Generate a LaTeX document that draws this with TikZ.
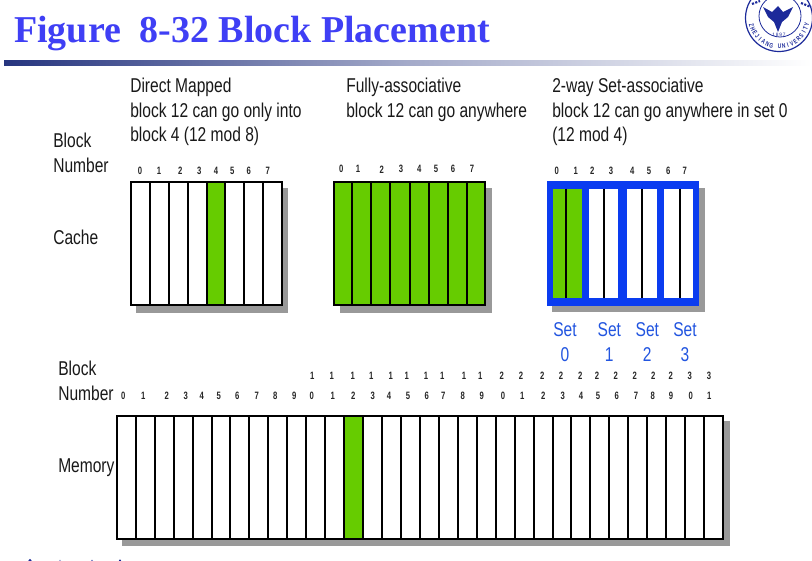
\documentclass[tikz,border=0pt]{standalone}
\usepackage{fontspec}
\setmainfont{Liberation Sans}
\newfontfamily\narr[FakeStretch=0.778]{Liberation Sans}
\newfontfamily\narrb[FakeStretch=0.72]{Liberation Sans Bold}
\newfontfamily\titlef{Liberation Serif Bold}
\definecolor{ttl}{HTML}{3F3FF5}
\definecolor{grn}{HTML}{66CC00}
\definecolor{shd}{HTML}{999999}
\definecolor{blu}{HTML}{0A3CF0}
\definecolor{setc}{HTML}{2255E0}
\definecolor{seal}{HTML}{1C2A9A}
\definecolor{rul}{HTML}{26357F}
\tikzset{
 lbl/.style={anchor=base west,inner sep=0pt,font=\narr\fontsize{15}{18}\selectfont,text=black!90},
 setl/.style={anchor=base,inner sep=0pt,font=\narr\fontsize{15}{18}\selectfont,text=setc},
 num/.style={anchor=center,inner sep=0pt,font=\narrb\fontsize{8}{9}\selectfont,text=black!85},
 cell/.style={draw=black,line width=1.5pt,fill=white},
 gcell/.style={draw=black,line width=1.5pt,fill=grn},
 div/.style={draw=black,line width=1.5pt},
}
\begin{document}
\begin{tikzpicture}[x=0.75pt,y=-0.75pt]
\useasboundingbox (0,0) rectangle (812,560);
\fill[white] (0,0) rectangle (812,560);
% title
\node[anchor=base west,inner sep=0pt,font=\titlef\fontsize{28.45}{30}\selectfont,text=ttl] (title) at (14,43) {Figure\ \ 8-32 Block Placement};
% rule
\shade[left color=rul,right color=white,middle color=rul!42] (4,61) rectangle (812,65.5);
% seal
\begin{scope}
\clip (732,0) rectangle (812,60);
\draw[seal,line width=0.9pt] (779,18) circle[radius=33.5];
\draw[seal,line width=0.6pt] (780,16) circle[radius=21];
\fill[seal] (763,7) -- (772,12) -- (778,6) -- (783,12) -- (793,7) -- (788,17) -- (782,22) -- (778,32) -- (774,22) -- (768,17) -- cycle;
\draw[seal,line width=1.6pt,dash pattern=on 1.6pt off 1pt] (752,4) -- (760,1);
\draw[seal,line width=1.6pt,dash pattern=on 1.6pt off 1pt] (801,3) -- (811,7);
\foreach \c [count=\i from 0] in {Z,H,E,J,I,A,N,G,{},U,N,I,V,E,R,S,I,T,Y}{
  \pgfmathsetmacro{\ang}{165-\i*8.45}
  \node[inner sep=0pt,font=\narrb\fontsize{5}{6}\selectfont,text=seal,rotate={90-\ang}] (sl\i) at ({779+28.5*cos(\ang)},{18+28.5*sin(\ang)}) {\c};
}
\node[inner sep=0pt,font=\fontsize{3.6}{4}\selectfont,text=seal] (year) at (779,34.5) {1\,8\,9\,7};
\end{scope}
% headings
\node[lbl] (h1a) at (130,92) {Direct Mapped};
\node[lbl] (h1b) at (130,117) {block 12 can go only into};
\node[lbl] (h1c) at (130,141.5) {block 4 (12 mod 8)};
\node[lbl] (h2a) at (346,92) {Fully-associative};
\node[lbl] (h2b) at (346,117) {block 12 can go anywhere};
\node[lbl] (h3a) at (552,92) {2-way Set-associative};
\node[lbl] (h3b) at (552,117) {block 12 can go anywhere in set 0};
\node[lbl] (h3c) at (552,141.5) {(12 mod 4)};
\node[lbl] (bn1) at (53,147) {Block};
\node[lbl] (bn2) at (53,172) {Number};
\node[lbl] (cachel) at (53,244) {Cache};
\node[lbl] (bn3) at (58,375) {Block};
\node[lbl] (bn4) at (58,400) {Number};
\node[lbl] (meml) at (58,472) {Memory};
% cache numbers
\foreach \x [count=\i from 0] in {140,159,180.3,199.3,216,232.3,248.7,267.7}
  \node[num] (na\i) at (\x,171) {\i};
\foreach \x [count=\i from 0] in {341.3,358,381.7,401,419.3,436,453,472}
  \node[num] (nb\i) at (\x,169.3) {\i};
\foreach \x [count=\i from 0] in {556.7,575.7,592.3,611,632.3,649,668.3,684.7}
  \node[num] (nc\i) at (\x,171) {\i};
% direct mapped
\fill[shd] (136,188) rectangle (288,312.7);
\draw[cell] (130.7,182.2) rectangle (281.7,304.7);
\fill[grn] (206.7,182.2) rectangle (225.3,304.7);
\foreach \x in {149.7,168.7,187.7,206.7,225.3,244.3,263.3}
  \draw[div] (\x,182.2) -- (\x,304.7);
\draw[div] (130.7,182.2) rectangle (281.7,304.7);
% fully assoc
\fill[shd] (339.5,188) rectangle (491.5,312.7);
\draw[gcell] (334.2,182.2) rectangle (485,304.7);
\foreach \x in {352.3,371.3,390.3,409.7,428.7,447.7,466.7}
  \draw[div] (\x,182.2) -- (\x,304.7);
% set assoc
\fill[shd] (552.3,187.7) rectangle (705,312.3);
\fill[blu] (546.7,180.7) rectangle (699,305.7);
\fill[grn] (553.3,188.7) rectangle (582,298.3);
\fill[white] (589.3,188.7) rectangle (618.3,298.3);
\fill[white] (626.7,188.7) rectangle (657,298.3);
\fill[white] (663.7,188.7) rectangle (692.7,298.3);
\foreach \x in {565.7,604,641.7,679.7}
  \draw[div] (\x,188.7) -- (\x,298.3);
% set labels
\foreach \x/\n [count=\i from 0] in {565/0,609.3/1,647.3/2,685/3}{
  \node[setl] (set\i) at (\x,336) {Set};
  \node[setl] (setn\i) at (\x,361.7) {\n};
}
% memory numbers
\foreach \x [count=\i from 0] in {123.3,143.3,166.7,185.7,201.7,218.7,237.3,256.7,275.3,294.3,311.7,332.7,353.3,372.7,389,408,426.7,443.3,462.7,481.7,503,522.3,543.3,562.7,581,598,616.7,636,652.7,671,690.7,709.3}{
  \pgfmathtruncatemacro{\u}{mod(\i,10)}
  \node[num] (mu\i) at (\x,396) {\u};
}
\foreach \x/\t [count=\i from 10] in {312.3/1,331.7/1,352.7/1,371.3/1,390.7/1,406.7/1,426/1,442.3/1,464/1,480.3/1,501.7/2,521/2,542.3/2,561/2,580.3/2,597/2,615.7/2,634.7/2,653.3/2,670.7/2,689.7/3,709/3}
  \node[num] (mt\i) at (\x,375.7) {\t};
% memory
\fill[shd] (121.7,421) rectangle (729.7,546.3);
\draw[cell] (116.8,416.2) rectangle (723,539);
\fill[grn] (344.3,416.2) rectangle (362.3,539);
\foreach \i in {1,...,31}
  \draw[div] ({116.8+\i*18.943},416.2) -- ({116.8+\i*18.943},539);
\draw[div] (116.8,416.2) rectangle (723,539);
% cut-off marks at the bottom edge
\fill[seal] (30,560.5) circle[radius=1.6];
\fill[seal!40] (60,560.5) circle[radius=1];
\fill[seal!60] (92,560.5) circle[radius=1];
\fill[seal] (120,560.5) circle[radius=1.2];
\end{tikzpicture}
\end{document}
